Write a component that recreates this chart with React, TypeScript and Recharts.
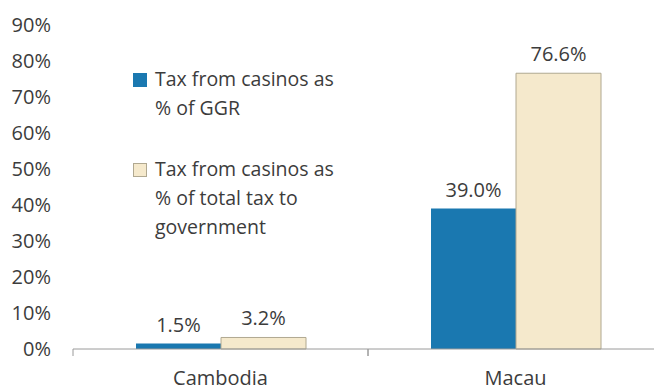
import React from 'react';
import { BarChart, Bar, XAxis, YAxis, LabelList, Legend } from 'recharts';

const categories = ['Cambodia', 'Macau'];
const ggrShare = [1.5, 39.0];
const totalTaxShare = [3.2, 76.6];
const yTicks = [0, 10, 20, 30, 40, 50, 60, 70, 80, 90];
const seriesNames = ['Tax from casinos as % of GGR', 'Tax from casinos as % of total tax to government'];
const legendLines = [['Tax from casinos as', '% of GGR'], ['Tax from casinos as', '% of total tax to', 'government']];

const data = categories.map((c, i) => ({ name: c, ggr: ggrShare[i], total: totalTaxShare[i] }));

const FONT = '"Open Sans", sans-serif';
const TEXT = '#3c3c3c';
const BLUE = '#1a78b0';
const BEIGE = '#f5e9cc';
const CHART_W = 670;
const FS = 20;
const M = { top: 25, right: 7, left: 0, bottom: 0 };
const Y_W = 73;
const PLOT_W = CHART_W - M.left - M.right - Y_W;
const BAND = PLOT_W / categories.length;

const XTick = (props: any) => {
  const { x, y, payload } = props;
  return (
    <g>
      <line x1={x - BAND / 2} y1={y} x2={x - BAND / 2} y2={y + 7} stroke="#9a9a9a" />
      <line x1={x + BAND / 2} y1={y} x2={x + BAND / 2} y2={y + 7} stroke="#9a9a9a" />
      <text x={x} y={y + 36} textAnchor="middle" fill={TEXT} fontSize={FS} fontFamily={FONT}>
        {payload.value}
      </text>
    </g>
  );
};

const LegendContent = () => (
  <div style={{ fontFamily: FONT, fontSize: 19.5, color: TEXT, lineHeight: '29px' }}>
    {legendLines.map((lines, i) => (
      <div key={i} style={{ display: 'flex', alignItems: 'flex-start', marginBottom: i === 0 ? 32 : 0 }}>
        <div style={{ width: 14, height: 14, marginTop: 9, marginRight: 8, flexShrink: 0, boxSizing: 'border-box', background: i === 0 ? BLUE : BEIGE, border: i === 0 ? 'none' : '1px solid #b0a890' }} />
        <div>
          {lines.map((l, j) => (
            <div key={j} style={{ whiteSpace: 'nowrap' }}>{l}</div>
          ))}
        </div>
      </div>
    ))}
  </div>
);

export default function App() {
  return (
    <div style={{ position: 'absolute', left: 0, top: 0, width: 654, height: 385, overflow: 'hidden', background: '#fff' }}>
      <BarChart width={CHART_W} height={385} data={data} margin={M} barGap={0} barSize={85}>
        <YAxis
          width={Y_W}
          domain={[0, 90]}
          ticks={yTicks}
          interval={0}
          axisLine={false}
          tickLine={false}
          tickSize={0}
          tickMargin={22}
          tickFormatter={(v: number) => `${v}%`}
          tick={{ fill: TEXT, fontSize: FS, fontFamily: FONT }}
        />
        <XAxis
          dataKey="name"
          height={36}
          axisLine={{ stroke: '#9a9a9a' }}
          tickLine={false}
          tickSize={0}
          tickMargin={0}
          tick={<XTick />}
          interval={0}
        />
        <Legend
          layout="horizontal"
          verticalAlign="middle"
          align="center"
          content={<LegendContent />}
          wrapperStyle={{ position: 'absolute', left: 133, top: 63.5, width: 'auto' }}
        />
        <Bar dataKey="ggr" name={seriesNames[0]} fill={BLUE} isAnimationActive={false}>
          <LabelList dataKey="ggr" position="top" offset={12} formatter={(v: number) => `${v.toFixed(1)}%`} fill={TEXT} fontSize={FS} fontFamily={FONT} />
        </Bar>
        <Bar dataKey="total" name={seriesNames[1]} fill={BEIGE} stroke="#b0a890" strokeWidth={1} isAnimationActive={false}>
          <LabelList dataKey="total" position="top" offset={12} formatter={(v: number) => `${v.toFixed(1)}%`} fill={TEXT} fontSize={FS} fontFamily={FONT} stroke="none" />
        </Bar>
      </BarChart>
    </div>
  );
}
